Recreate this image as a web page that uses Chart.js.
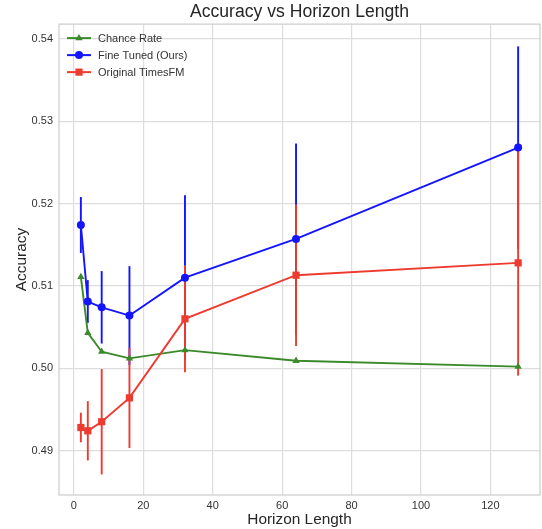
<!DOCTYPE html>
<html>
<head>
<meta charset="utf-8">
<script src="https://cdn.jsdelivr.net/npm/chart.js@4.4.1/dist/chart.umd.min.js"></script>
<style>
  html, body { margin: 0; padding: 0; background: #ffffff; overflow: hidden; }
  #wrap { width: 542px; height: 529px; }
</style>
</head>
<body>
<div id="wrap"><canvas id="c" width="542" height="529"></canvas></div>
<script>
// ---- Data ----
const horizons = [2, 4, 8, 16, 32, 64, 128];
const chanceRate = [0.5111, 0.5043, 0.5020, 0.5012, 0.5022, 0.5009, 0.5002];
const fineTuned = [0.5174, 0.5081, 0.5074, 0.5064, 0.5110, 0.5157, 0.5268];
const fineTunedErr = [0.0034, 0.0026, 0.0044, 0.0060, 0.0100, 0.0116, 0.0123];
const originalTFM = [0.4928, 0.4924, 0.4935, 0.4964, 0.5060, 0.5113, 0.5128];
const originalTFMErr = [0.0018, 0.0036, 0.0064, 0.0061, 0.0065, 0.0086, 0.0137];
const seriesLabels = ['Chance Rate', 'Fine Tuned (Ours)', 'Original TimesFM'];
const xTicks = [0, 20, 40, 60, 80, 100, 120];
const yTicks = [0.49, 0.50, 0.51, 0.52, 0.53, 0.54];

const GREEN = '#3a8a2a', BLUE = '#1414ff', RED = '#ee3b2f';
const COLORS = [GREEN, BLUE, RED];
const STYLES = ['triangle', 'circle', 'rect'];
const FONT = "'Liberation Sans', Arial, sans-serif";
const TEXT = '#333333';

function pts(ys) { return horizons.map((x, i) => ({ x: x, y: ys[i] })); }

function drawMarker(c, style, x, y) {
  c.beginPath();
  if (style === 'triangle') { c.moveTo(x, y - 4.2); c.lineTo(x + 3.7, y + 2.2); c.lineTo(x - 3.7, y + 2.2); c.closePath(); }
  else if (style === 'circle') { c.arc(x, y, 4, 0, Math.PI * 2); }
  else { c.rect(x - 3.6, y - 3.6, 7.2, 7.2); }
  c.fill();
}

const customLegend = {
  id: 'customLegend',
  afterDatasetsDraw(chart) {
    const ctx = chart.ctx, a = chart.chartArea;
    ctx.save();
    ctx.font = '11px ' + FONT;
    ctx.textBaseline = 'middle';
    ctx.textAlign = 'left';
    seriesLabels.forEach((lab, i) => {
      const y = a.top + 14 + i * 17;
      const x0 = a.left + 8;
      ctx.strokeStyle = COLORS[i]; ctx.fillStyle = COLORS[i]; ctx.lineWidth = 2;
      ctx.beginPath(); ctx.moveTo(x0, y); ctx.lineTo(x0 + 24, y); ctx.stroke();
      drawMarker(ctx, STYLES[i], x0 + 12, y);
      ctx.fillStyle = TEXT;
      ctx.fillText(lab, x0 + 31, y + 0.5);
    });
    ctx.restore();
  }
};

const errorBars = {
  id: 'errorBars',
  beforeDatasetsDraw(chart) {
    const ctx = chart.ctx, xs = chart.scales.x, ys = chart.scales.y;
    const sets = [[fineTuned, fineTunedErr, BLUE], [originalTFM, originalTFMErr, RED]];
    ctx.save();
    ctx.beginPath();
    ctx.rect(chart.chartArea.left, chart.chartArea.top, chart.chartArea.width, chart.chartArea.height);
    ctx.clip();
    sets.forEach(([vals, errs, col]) => {
      ctx.strokeStyle = col; ctx.lineWidth = 1.9;
      horizons.forEach((h, i) => {
        const px = xs.getPixelForValue(h);
        ctx.beginPath();
        ctx.moveTo(px, ys.getPixelForValue(vals[i] - errs[i]));
        ctx.lineTo(px, ys.getPixelForValue(vals[i] + errs[i]));
        ctx.stroke();
      });
    });
    ctx.restore();
  }
};

const frame = {
  id: 'frame',
  afterLayout(chart) {
    if (chart.titleBlock) {
      chart.titleBlock.left = chart.chartArea.left;
      chart.titleBlock.right = chart.chartArea.right;
    }
  },
  afterDraw(chart) {
    const a = chart.chartArea, ctx = chart.ctx;
    ctx.save();
    ctx.strokeStyle = '#cccccc'; ctx.lineWidth = 1.2;
    ctx.strokeRect(a.left, a.top, a.right - a.left, a.bottom - a.top);
    ctx.restore();
  }
};

new Chart(document.getElementById('c'), {
  type: 'scatter',
  data: {
    datasets: [
      { label: seriesLabels[0], data: pts(chanceRate), showLine: true, borderColor: GREEN, backgroundColor: GREEN,
        borderWidth: 1.9, pointStyle: 'triangle', pointRadius: 4.2, pointHoverRadius: 4.2, pointBorderWidth: 0, order: 3 },
      { label: seriesLabels[1], data: pts(fineTuned), showLine: true, borderColor: BLUE, backgroundColor: BLUE,
        borderWidth: 1.9, pointStyle: 'circle', pointRadius: 4, pointHoverRadius: 4, pointBorderWidth: 0, order: 2 },
      { label: seriesLabels[2], data: pts(originalTFM), showLine: true, borderColor: RED, backgroundColor: RED,
        borderWidth: 1.9, pointStyle: 'rect', pointRadius: 5.1, pointHoverRadius: 5.1, pointBorderWidth: 0, order: 1 }
    ]
  },
  options: {
    responsive: false,
    animation: false,
    devicePixelRatio: 1,
    layout: { autoPadding: false, padding: { left: 0, right: 2, top: 0, bottom: 0 } },
    plugins: {
      title: { display: true, text: 'Accuracy vs Horizon Length', color: '#262626',
        font: { family: FONT, size: 17.6, weight: 'normal', lineHeight: 1.2 }, padding: { top: 2, bottom: 1 } },
      legend: { display: false },
      tooltip: { enabled: false }
    },
    scales: {
      x: {
        type: 'linear', min: -4.3, max: 134.3,
        afterBuildTicks(s) { s.ticks = xTicks.map(v => ({ value: v })); },
        afterFit(s) { s.height = 34; s.paddingLeft = 0; s.paddingRight = 0; },
        grid: { color: '#dddddd', lineWidth: 1.2, drawTicks: false, tickLength: 0 },
        border: { display: false },
        ticks: { color: TEXT, font: { family: FONT, size: 11 }, padding: 4, maxRotation: 0 },
        title: { display: true, text: 'Horizon Length', color: '#262626', font: { family: FONT, size: 15.4 }, padding: { top: 0, bottom: 0 } }
      },
      y: {
        type: 'linear', min: 0.4846, max: 0.5418,
        afterBuildTicks(s) { s.ticks = yTicks.map(v => ({ value: v })); },
        afterFit(s) { s.width = 59; s.paddingTop = 0; s.paddingBottom = 0; },
        grid: { color: '#dddddd', lineWidth: 1.2, drawTicks: false, tickLength: 0 },
        border: { display: false },
        ticks: { color: TEXT, font: { family: FONT, size: 11 }, padding: 6, callback: v => v.toFixed(2) },
        title: { display: true, text: 'Accuracy', color: '#262626', font: { family: FONT, size: 15.4 }, padding: { top: 13, bottom: 13 } }
      }
    }
  },
  plugins: [errorBars, customLegend, frame]
});
</script>
</body>
</html>
